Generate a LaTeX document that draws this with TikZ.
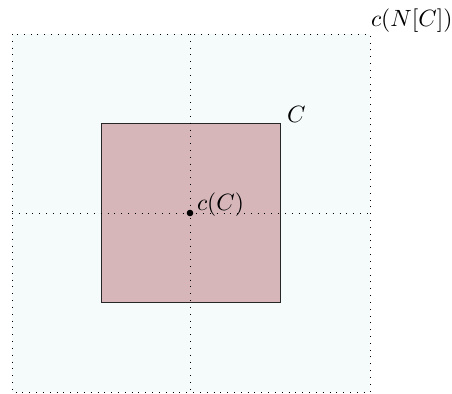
\documentclass[tikz,border=0pt]{standalone}
\usepackage{xcolor}
\definecolor{outerfill}{RGB}{245,251,251}
\definecolor{innerfill}{RGB}{214,182,185}
\begin{document}
\begin{tikzpicture}[x=0.425pt,y=-0.425pt,
  dotline/.style={line width=0.4pt,dash pattern=on 0.4pt off 2.5pt,black},
  lab/.style={anchor=base west,inner sep=0pt,outer sep=0pt}]
\useasboundingbox (0,0) rectangle (452,393);
\coordinate (ntl) at (12,34);
\coordinate (nbr) at (370,392);
\fill[outerfill] (ntl) rectangle (nbr);
\draw[dotline] (ntl) rectangle (nbr);
\coordinate (ctl) at (101,123);
\coordinate (cbr) at (280,302);
\draw[fill=innerfill,draw=black!85,line width=0.4pt] (ctl) rectangle (cbr);
\coordinate (vt) at (190,34);
\coordinate (vb) at (190,392);
\coordinate (hl) at (12,213);
\coordinate (hr) at (370,213);
\draw[dotline] (vt) -- (vb);
\draw[dotline] (hl) -- (hr);
\fill (190,213) circle (3.3);
\node[lab] (lncc) at (371,27) {$c(N[C])$};
\node[lab] (lc) at (287,123) {$C$};
\node[lab] (lcc) at (197,210) {$c(C)$};
\end{tikzpicture}
\end{document}
